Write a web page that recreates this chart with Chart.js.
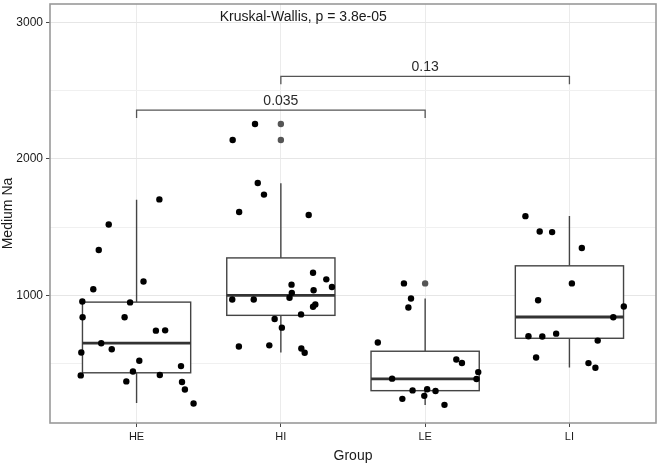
<!DOCTYPE html>
<html>
<head>
<meta charset="utf-8">
<script src="https://cdn.jsdelivr.net/npm/chart.js@4"></script>
<style>
  body { margin: 0; background: #fff; }
  canvas { display: block; }
</style>
</head>
<body>
<canvas id="chart" width="660" height="463"></canvas>
<script>
// groups on the x axis
const categories = ["HE", "HI", "LE", "LI"];

// box statistics per group
const whiskerLow = [212, 582, 197, 472];
const q1 = [433, 854, 302, 686];
const median = [650, 1000, 389, 842];
const q3 = [951, 1275, 591, 1217];
const whiskerHigh = [1701, 1822, 978, 1582];

// boxplot outliers (drawn at the group centre)
const outlierGroup = [1, 1, 2];
const outlierValue = [2256, 2139, 1088];

// jittered points: offset from group centre and value
const heJitter = [0.158, -0.193, -0.262, 0.048, -0.3, -0.376, -0.045, -0.374, -0.083, 0.134, 0.198, -0.245,
  -0.172, -0.383, 0.019, -0.025, 0.308, -0.387, 0.161, -0.071, 0.315, 0.335, 0.395];
const heValues = [1704, 1520, 1333, 1102, 1045, 955, 949, 840, 840, 742, 744, 650,
  606, 582, 521, 443, 482, 414, 417, 370, 366, 310, 208];

const hiJitter = [-0.179, -0.334, -0.16, -0.117, -0.289, 0.193, 0.074, 0.223, 0.315, 0.354, 0.227, 0.076,
  0.06, -0.337, -0.188, 0.239, 0.223, 0.14, -0.043, 0.007, -0.291, -0.08, 0.142, 0.165];
const hiValues = [2256, 2139, 1824, 1739, 1612, 1590, 1079, 1166, 1118, 1062, 1038, 1019,
  983, 970, 970, 934, 917, 861, 827, 764, 626, 634, 611, 580];

const leJitter = [-0.147, -0.098, -0.116, -0.328, 0.216, 0.255, 0.368, -0.229, 0.356, -0.087, 0.014, 0.072,
  -0.006, -0.158, 0.134];
const leValues = [1088, 978, 912, 655, 530, 505, 438, 390, 387, 304, 312, 300, 264, 242, 198];

const liJitter = [-0.305, -0.206, -0.12, 0.086, 0.017, -0.217, 0.377, 0.304, -0.284, -0.188, -0.092, 0.196,
  -0.231, 0.132, 0.18];
const liValues = [1581, 1469, 1464, 1348, 1088, 965, 919, 840, 701, 699, 720, 669, 545, 504, 470];

// pairwise comparisons
const bracketFrom = [0, 1];
const bracketTo = [2, 3];
const bracketY = [2358, 2606];
const bracketLabels = ["0.035", "0.13"];

const testLabel = "Kruskal-Wallis, p = 3.8e-05";

const yTicks = [500, 1000, 1500, 2000, 2500, 3000];

const FONT = "'Liberation Sans', Arial, sans-serif";

const jitterSets = [heJitter, hiJitter, leJitter, liJitter];
const valueSets = [heValues, hiValues, leValues, liValues];

const pointData = [];
jitterSets.forEach((offs, g) => {
  offs.forEach((o, k) => pointData.push({ x: g + o, y: valueSets[g][k] }));
});
const outlierData = outlierGroup.map((g, k) => ({ x: g, y: outlierValue[k] }));

// boxes go under the points
const boxPlugin = {
  id: "boxes",
  beforeDatasetsDraw(chart) {
    const { ctx, scales: { x, y } } = chart;
    ctx.save();
    categories.forEach((c, i) => {
      const xl = x.getPixelForValue(i - 0.375);
      const xr = x.getPixelForValue(i + 0.375);
      const xc = x.getPixelForValue(i);
      const yLo = y.getPixelForValue(q1[i]);
      const yHi = y.getPixelForValue(q3[i]);
      ctx.strokeStyle = "#444";
      ctx.lineWidth = 1.4;
      ctx.beginPath();
      ctx.moveTo(xc, yHi);
      ctx.lineTo(xc, y.getPixelForValue(whiskerHigh[i]));
      ctx.moveTo(xc, yLo);
      ctx.lineTo(xc, y.getPixelForValue(whiskerLow[i]));
      ctx.stroke();
      ctx.fillStyle = "#fff";
      ctx.fillRect(xl, yHi, xr - xl, yLo - yHi);
      ctx.strokeRect(xl, yHi, xr - xl, yLo - yHi);
      ctx.strokeStyle = "#333";
      ctx.lineWidth = 2.8;
      ctx.beginPath();
      const ym = y.getPixelForValue(median[i]);
      ctx.moveTo(xl, ym);
      ctx.lineTo(xr, ym);
      ctx.stroke();
    });
    ctx.restore();
  },
  afterDatasetsDraw(chart) {
    const { ctx, chartArea, scales: { x, y } } = chart;
    ctx.save();
    // brackets and p-values
    ctx.strokeStyle = "#555";
    ctx.lineWidth = 1.3;
    ctx.fillStyle = "#2a2a2a";
    ctx.font = "14px " + FONT;
    ctx.textAlign = "center";
    ctx.textBaseline = "middle";
    bracketFrom.forEach((a, k) => {
      const b = bracketTo[k];
      const x1 = x.getPixelForValue(a);
      const x2 = x.getPixelForValue(b);
      const yb = y.getPixelForValue(bracketY[k]);
      const yt = y.getPixelForValue(bracketY[k] - 58);
      ctx.beginPath();
      ctx.moveTo(x1, yt);
      ctx.lineTo(x1, yb);
      ctx.lineTo(x2, yb);
      ctx.lineTo(x2, yt);
      ctx.stroke();
      ctx.fillText(bracketLabels[k], (x1 + x2) / 2, yb - 9);
    });
    ctx.textAlign = "left";
    ctx.fillStyle = "#1a1a1a";
    ctx.fillText(testLabel, x.getPixelForValue(0.576), y.getPixelForValue(3041));
    // panel border
    ctx.strokeStyle = "#999";
    ctx.lineWidth = 1.6;
    ctx.strokeRect(chartArea.left, chartArea.top, chartArea.right - chartArea.left, chartArea.bottom - chartArea.top);
    ctx.restore();
  }
};

new Chart(document.getElementById("chart"), {
  type: "scatter",
  data: {
    datasets: [
      {
        data: pointData,
        backgroundColor: "#000",
        borderWidth: 0,
        pointRadius: 3.2,
        order: 0
      },
      {
        data: outlierData,
        backgroundColor: "#555",
        borderWidth: 0,
        pointRadius: 3.2,
        order: 1
      }
    ]
  },
  options: {
    responsive: false,
    animation: false,
    layout: { padding: { top: 2, right: 2, left: 0, bottom: 0 } },
    plugins: {
      legend: { display: false },
      tooltip: { enabled: false }
    },
    scales: {
      x: {
        type: "linear",
        min: -0.6,
        max: 3.6,
        afterBuildTicks: (scale) => {
          scale.ticks = categories.map((c, i) => ({ value: i }));
        },
        afterFit: (scale) => {
          scale.height = 40;
          scale.paddingLeft = 0;
          scale.paddingRight = 0;
        },
        ticks: {
          callback: (v) => categories[v],
          color: "#1a1a1a",
          font: { family: FONT, size: 11 },
          padding: 3,
          maxRotation: 0
        },
        grid: { color: "#ebebeb", lineWidth: 1, tickColor: "#444", tickLength: 4 },
        border: { display: false },
        title: {
          display: true,
          text: "Group",
          color: "#1a1a1a",
          font: { family: FONT, size: 14, lineHeight: 1 },
          padding: 0
        }
      },
      y: {
        min: 65,
        max: 3136,
        afterBuildTicks: (scale) => {
          scale.ticks = yTicks.map((v) => ({ value: v }));
        },
        afterFit: (scale) => {
          scale.width = 50;
          scale.paddingTop = 0;
          scale.paddingBottom = 0;
        },
        ticks: {
          callback: (v) => (v % 1000 === 0 ? v : ""),
          color: "#1a1a1a",
          font: { family: FONT, size: 12 },
          padding: 3
        },
        grid: {
          color: (ctx) => (ctx.tick && ctx.tick.value % 1000 === 0 ? "#e6e6e6" : "#f0f0f0"),
          lineWidth: 1,
          tickColor: (ctx) => (ctx.tick && ctx.tick.value % 1000 === 0 ? "#444" : "rgba(0,0,0,0)"),
          tickLength: 4
        },
        border: { display: false },
        title: {
          display: true,
          text: "Medium Na",
          color: "#1a1a1a",
          font: { family: FONT, size: 14 },
          padding: 0
        }
      }
    }
  },
  plugins: [boxPlugin]
});
</script>
</body>
</html>
